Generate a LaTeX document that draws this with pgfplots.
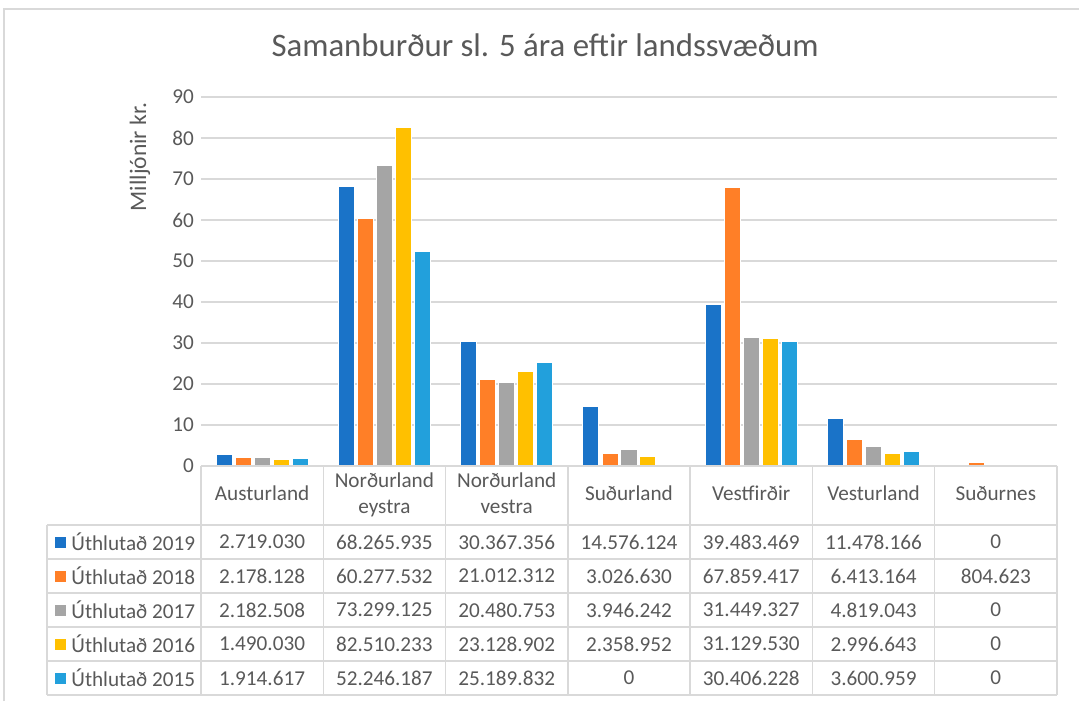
\documentclass[border=0pt]{standalone}
\usepackage{fontspec}
\setmainfont{Carlito}
\usepackage{pgfplots}
\usepackage{pgfplotstable}
\pgfplotsset{compat=1.18}

\definecolor{c2019}{HTML}{1A73C8}
\definecolor{c2018}{HTML}{FF7F27}
\definecolor{c2017}{HTML}{A5A5A5}
\definecolor{c2016}{HTML}{FFC000}
\definecolor{c2015}{HTML}{22A0DC}
\definecolor{txt}{HTML}{595959}
\definecolor{rule}{HTML}{D9D9D9}

% kr. per region (0 Austurland ... 6 Sudurnes) and year
\pgfplotstableread{
reg y2019    y2018    y2017    y2016    y2015
0   2719030  2178128  2182508  1490030  1914617
1   68265935 60277532 73299125 82510233 52246187
2   30367356 21012312 20480753 23128902 25189832
3   14576124 3026630  3946242  2358952  0
4   39483469 67859417 31449327 31129530 30406228
5   11478166 6413164  4819043  2996643  3600959
6   0        804623   0        0        0
}\svaedi

\newcommand{\tabfont}{\fontsize{10.6}{12.6}\selectfont}

\begin{document}
\begin{tikzpicture}
\begin{axis}[
    at={(100.5pt,117.5pt)}, anchor=south west,
    width=428pt, height=184.5pt, scale only axis,
    ybar, bar width=0.131,
    xmin=-0.5, xmax=6.5, ymin=0, ymax=90,
    ytick={0,10,...,90}, xtick=\empty,
    axis line style={draw=none},
    tick style={draw=none},
    ymajorgrids,
    major grid style={rule, line width=0.75pt},
    /pgf/number format/assume math mode=true,
    yticklabel style={font=\tabfont, text=txt},
    ylabel={Milljónir kr.},
    ylabel style={at={(axis description cs:-0.0713,0.837)}, anchor=center,
        font=\fontsize{11.8}{14}\selectfont, text=txt},
    title={Samanburður sl. 5 ára eftir landssvæðum},
    title style={at={(axis description cs:0.402,1.107)}, anchor=center,
        font=\fontsize{16.4}{19}\selectfont, text=txt},
    every axis plot/.append style={draw=white, line width=0.5pt},
]
\addplot[fill=c2019, bar shift=-0.311] table[x=reg, y expr=\thisrow{y2019}/1000000] {\svaedi};
\addplot[fill=c2018, bar shift=-0.155] table[x=reg, y expr=\thisrow{y2018}/1000000] {\svaedi};
\addplot[fill=c2017, bar shift=0]      table[x=reg, y expr=\thisrow{y2017}/1000000] {\svaedi};
\addplot[fill=c2016, bar shift=0.155]  table[x=reg, y expr=\thisrow{y2016}/1000000] {\svaedi};
\addplot[fill=c2015, bar shift=0.311]  table[x=reg, y expr=\thisrow{y2015}/1000000] {\svaedi};
\end{axis}

% data table under the plot, in pixel units
\begin{scope}[x=0.5pt, y=-0.5pt, yshift=350.5pt]
\draw[rule, line width=0.75pt] (4,701) -- (4,9) -- (1079,9);
\draw[rule, line width=0.75pt] (201,466) -- (1057,466);
\foreach \yy in {525,559,593,627,661,695}
    \draw[rule, line width=0.75pt] (47,\yy) -- (1057,\yy);
\draw[rule, line width=0.75pt] (47,525) -- (47,695);
\foreach \i in {0,...,7}
    \draw[rule, line width=0.75pt] (201+122.286*\i,466) -- (201+122.286*\i,695);
\foreach \nm [count=\c from 0] in {Austurland\strut,{Norðurland\strut\\eystra\strut},{Norðurland\strut\\vestra\strut},
        Suðurland\strut,Vestfirðir\strut,Vesturland\strut,Suðurnes\strut}
    \node[font=\tabfont, text=txt, align=center] at (262.1+122.286*\c,495.5) {\nm};
\foreach \s [count=\r from 0] in {2019,2018,2017,2016,2015} {
    \fill[c\s] (55,536.5+34*\r) rectangle ++(11,11);
    \node[font=\tabfont, text=txt, anchor=west, inner sep=0pt] at (71,542+34*\r) {Úthlutað \s};
    \foreach \c in {0,...,6} {
        \pgfplotstablegetelem{\c}{y\s}\of\svaedi
        \node[font=\tabfont, text=txt] at (262.1+122.286*\c,542+34*\r)
            {\pgfmathprintnumber[fixed, precision=0, 1000 sep={.}, assume math mode=true]{\pgfplotsretval}};
    }
}
\pgfresetboundingbox
\path[use as bounding box] (0,0) rectangle (1079,701);
\end{scope}
\end{tikzpicture}
\end{document}
